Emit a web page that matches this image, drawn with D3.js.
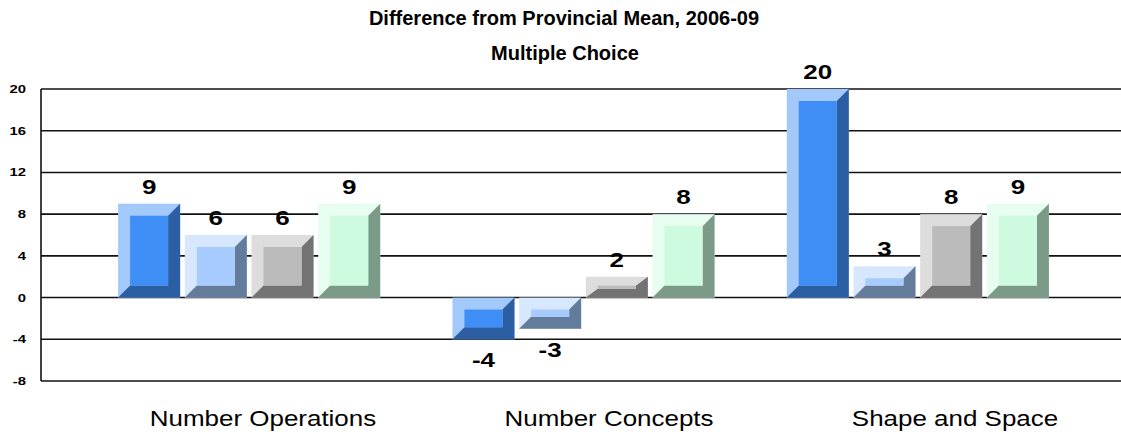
<!DOCTYPE html>
<html>
<head>
<meta charset="utf-8">
<script src="https://cdn.jsdelivr.net/npm/d3@7"></script>
<style>
  html, body { margin: 0; padding: 0; background: #fff; }
  svg { display: block; }
  text { font-family: "Liberation Sans", Arial, Helvetica, sans-serif; fill: #000; }
</style>
</head>
<body>
<svg id="chart" width="1121" height="441"></svg>
<script>
// Categories and the four series (difference from provincial mean)
const categories = ["Number Operations", "Number Concepts", "Shape and Space"];
const seriesA = [9, -4, 20];
const seriesB = [6, -3, 3];
const seriesC = [6, 2, 8];
const seriesD = [9, 8, 9];
const tickValues = [-8, -4, 0, 4, 8, 12, 16, 20];

const titleText = "Difference from Provincial Mean, 2006-09";
const subtitleText = "Multiple Choice";

// Bevel palettes: light edge (top/left), front face, shadow edge (bottom/right)
const palettes = [
  { light: "#a3c9fb", face: "#3f8ef6", dark: "#2b5ea3" },
  { light: "#d6e7fe", face: "#a7cbfd", dark: "#647c9c" },
  { light: "#dddddd", face: "#bbbbbb", dark: "#737373" },
  { light: "#e7fdef", face: "#cefadf", dark: "#7b9a87" }
];

const allSeries = [seriesA, seriesB, seriesC, seriesD];

const svg = d3.select("#chart");
const W = 1121;

const plotLeft = 41, plotRight = W;
const y = d3.scaleLinear().domain([-8, 20]).range([381, 89]);

const x0 = d3.scaleBand().domain(categories).range([82, 1085])
  .paddingInner(0.216).paddingOuter(0.108);
const x1 = d3.scaleBand().domain(d3.range(allSeries.length))
  .range([0, x0.bandwidth()]).paddingInner(0.07).paddingOuter(0);
const labelX = d3.scalePoint().domain(categories).range([263, 955]);

// Title block
svg.append("text").attr("x", 564).attr("y", 25).attr("text-anchor", "middle")
  .style("font-size", "20px").style("font-weight", "bold").text(titleText);
svg.append("text").attr("x", 565).attr("y", 60).attr("text-anchor", "middle")
  .style("font-size", "20px").style("font-weight", "bold").text(subtitleText);

// Horizontal grid lines and left axis
const grid = svg.append("g");
grid.selectAll("line.grid").data(tickValues).join("line")
  .attr("class", "grid")
  .attr("x1", plotLeft).attr("x2", plotRight)
  .attr("y1", d => y(d)).attr("y2", d => y(d))
  .attr("stroke", "#111").attr("stroke-width", 1.6);
grid.append("line")
  .attr("x1", plotLeft).attr("x2", plotLeft)
  .attr("y1", y(20)).attr("y2", y(-8))
  .attr("stroke", "#111").attr("stroke-width", 1.6);

// Y tick labels
svg.append("g").selectAll("text").data(tickValues).join("text")
  .attr("transform", d => `translate(26,${y(d) + 4}) scale(1.35,1)`)
  .attr("text-anchor", "end")
  .style("font-size", "11px").style("font-weight", "bold")
  .text(d => String(d));

// Flatten series into bar records
const bars = [];
categories.forEach((c, ci) => {
  allSeries.forEach((s, si) => {
    bars.push({ cat: c, si, value: s[ci] });
  });
});

const bevelH = 12;
const barG = svg.append("g");

bars.forEach(b => {
  const pal = palettes[b.si];
  const xa = x0(b.cat) + x1(b.si);
  const xb = xa + x1.bandwidth();
  const ya = Math.min(y(b.value), y(0));
  const yb = Math.max(y(b.value), y(0));
  const h = yb - ya;
  const bv = Math.min(12, Math.max(1, (h - 3) / 2));
  const bh = bevelH;
  const g = barG.append("g");
  g.append("rect").attr("x", xa).attr("y", ya).attr("width", xb - xa).attr("height", h)
    .attr("fill", pal.light);
  g.append("polygon")
    .attr("points", [
      [xb, ya], [xb, yb], [xa, yb], [xa + bh, yb - bv], [xb - bh, yb - bv], [xb - bh, ya + bv]
    ].map(p => p.join(",")).join(" "))
    .attr("fill", pal.dark);
  g.append("rect").attr("x", xa + bh).attr("y", ya + bv)
    .attr("width", Math.max(0, xb - xa - 2 * bh)).attr("height", Math.max(0, h - 2 * bv))
    .attr("fill", pal.face);

  // Value label above positive bars, below negative ones
  const cx = (xa + xb) / 2;
  const ly = b.value >= 0 ? ya - 10 : yb + 28;
  g.append("text")
    .attr("transform", `translate(${cx},${ly}) scale(1.3,1)`)
    .attr("text-anchor", "middle")
    .style("font-size", "20px").style("font-weight", "bold")
    .text(String(b.value));
});

// Category labels
svg.append("g").selectAll("text").data(categories).join("text")
  .attr("transform", d => `translate(${labelX(d)},426) scale(1.18,1)`)
  .attr("text-anchor", "middle")
  .style("font-size", "22px")
  .text(d => d);
</script>
</body>
</html>
